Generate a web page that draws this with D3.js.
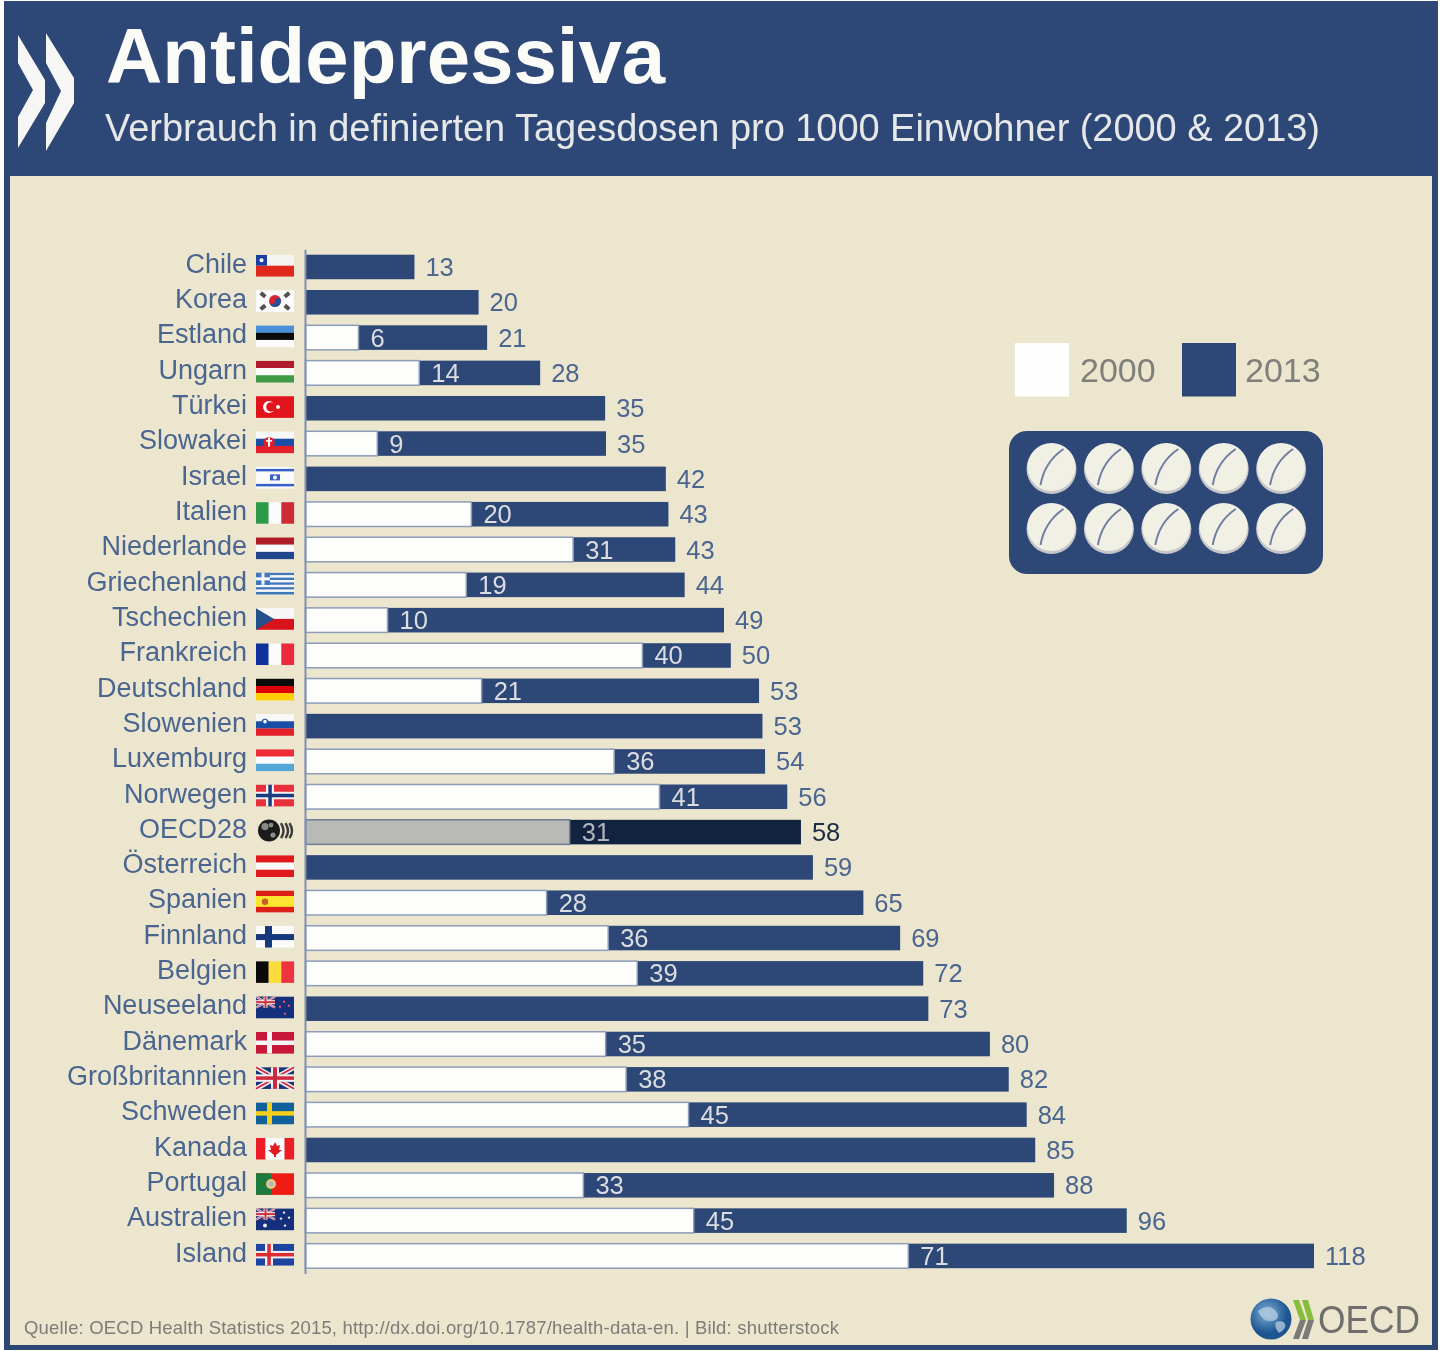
<!DOCTYPE html>
<html><head><meta charset="utf-8">
<script src="https://cdn.jsdelivr.net/npm/d3@7"></script>
<style>html,body{margin:0;padding:0;background:#fff}svg{display:block;filter:blur(.7px)}text{font-family:"Liberation Sans",Arial,sans-serif}</style>
</head><body><svg id="c" width="1440" height="1351"></svg>
<script>
const countries=["Chile","Korea","Estland","Ungarn","Türkei","Slowakei","Israel","Italien","Niederlande","Griechenland","Tschechien","Frankreich","Deutschland","Slowenien","Luxemburg","Norwegen","OECD28","Österreich","Spanien","Finnland","Belgien","Neuseeland","Dänemark","Großbritannien","Schweden","Kanada","Portugal","Australien","Island"];
const values2013=[12.8,20.3,21.3,27.5,35.1,35.2,42.2,42.5,43.3,44.4,49,49.8,53.1,53.5,53.8,56.4,58,59.4,65.3,69.6,72.3,72.9,80.1,82.3,84.4,85.4,87.6,96.1,118];
const labels2013=[13,20,21,28,35,35,42,43,43,44,49,50,53,53,54,56,58,59,65,69,72,73,80,82,84,85,88,96,118];
const values2000=[null,null,6.2,13.3,null,8.4,null,19.4,31.3,18.8,9.6,39.4,20.6,null,36.1,41.4,30.9,null,28.2,35.4,38.8,null,35.1,37.5,44.8,null,32.5,45.4,70.5];
const labels2000=[null,null,6,14,null,9,null,20,31,19,10,40,21,null,36,41,31,null,28,36,39,null,35,38,45,null,33,45,71];
const legendYears=["2000","2013"];
const title="Antidepressiva";
const subtitle="Verbrauch in definierten Tagesdosen pro 1000 Einwohner (2000 & 2013)";
const source="Quelle: OECD Health Statistics 2015, http://dx.doi.org/10.1787/health-data-en. | Bild: shutterstock";
const stripes={
 "Chile":["h","#f4f4f2","#e0281c"],"Korea":["h","#fbfbfb"],"Estland":["h","#4a90d8","#0a0a0a","#fbfbfb"],
 "Ungarn":["h","#b01c2e","#fbfbfb","#3f9a48"],"Türkei":["h","#e3131c"],"Slowakei":["h","#f8f8f8","#1a4fa8","#e3202a"],
 "Israel":["h","#fbfbfb"],"Italien":["v","#2c9a48","#fbfbfb","#cf2b37"],"Niederlande":["h","#ae1c28","#fbfbfb","#21468b"],
 "Griechenland":["h","#3f78bc","#f4f6f8","#3f78bc","#f4f6f8","#3f78bc","#f4f6f8","#3f78bc","#f4f6f8","#3f78bc"],
 "Tschechien":["h","#f8f8f8","#d7141a"],"Frankreich":["v","#10309c","#fbfbfb","#ec2a3c"],"Deutschland":["h","#0a0a0a","#dd0000","#ffce00"],
 "Slowenien":["h","#f8f8f8","#1a4fa8","#e3202a"],"Luxemburg":["h","#ef2b36","#fbfbfb","#50a8d8"],"Norwegen":["h","#e8303a"],
 "OECD28":[],"Österreich":["h","#e01a1c","#fbfbfb","#e01a1c"],"Spanien":["h","#dc1f18","#fbe62c","#fbe62c","#dc1f18"],"Finnland":["h","#fbfbfb"],
 "Belgien":["v","#0a0a0a","#fbdc3c","#ef3340"],"Neuseeland":["h","#14307c"],"Dänemark":["h","#c8183a"],"Großbritannien":["h","#1c3578"],
 "Schweden":["h","#10609c"],"Kanada":["v","#ee1c25","#fbfbfb","#fbfbfb","#ee1c25"],"Portugal":["h","#ee1c14"],"Australien":["h","#14307c"],"Island":["h","#1c44a0"]};

const NAVY="#2d4777",PANEL="#ece6ce",CAT="#4a6590";
const svg=d3.select("#c");
svg.append("rect").attr("x",4).attr("y",1).attr("width",1434).attr("height",1349).attr("fill",NAVY);
svg.append("rect").attr("x",10).attr("y",176).attr("width",1422).attr("height",1169).attr("fill",PANEL);

// header
const poly=(g,p,f)=>g.append("polygon").attr("points",p.map(d=>d.join(",")).join(" ")).attr("fill",f);
poly(svg,[[18,35],[45,80],[45,103],[18,148],[18,117],[33,90],[18,63]],"#f6f6f4");
poly(svg,[[46,33],[74,78],[74,103],[46,151],[46,123],[61,91],[46,63]],"#f6f6f4");
svg.append("text").attr("x",106).attr("y",83).attr("font-size",78).attr("font-weight",700).attr("fill","#fbfbf8").text(title);
svg.append("text").attr("x",105).attr("y",141).attr("font-size",38).attr("fill","#e6e8e8").attr("textLength",1215).attr("lengthAdjust","spacing").text(subtitle);

// scales
const x=d3.scaleLinear().domain([0,118]).range([305,1314]);
const y=d3.scaleBand().domain(countries).range([249.3,1273.6]).paddingInner(.305).paddingOuter(.1525);
const rows=svg.append("g").selectAll("g").data(countries).join("g").attr("transform",c=>`translate(0,${y(c)})`);
const h=y.bandwidth();
const isO=i=>countries[i]==="OECD28";
rows.append("rect").attr("x",x(0)).attr("width",(c,i)=>x(values2013[i])-x(0)).attr("height",h).attr("fill",(c,i)=>isO(i)?"#12233f":NAVY);
rows.filter((c,i)=>values2000[i]!=null).append("rect")
 .attr("x",x(0)+.5).attr("y",0).attr("height",h)
 .attr("width",c=>x(values2000[countries.indexOf(c)])-x(0))
 .attr("fill",c=>isO(countries.indexOf(c))?"#b9b9b7":"#fdfdfb")
 .attr("stroke",c=>isO(countries.indexOf(c))?"#6f7d90":"#8c9dba").attr("stroke-width",1.5);
rows.append("text").attr("x",(c,i)=>x(values2013[i])+11).attr("y",h/2+9).attr("font-size",25.5)
 .attr("fill",(c,i)=>isO(i)?"#1d2c44":CAT).text((c,i)=>labels2013[i]);
rows.filter((c,i)=>labels2000[i]!=null).append("text")
 .attr("x",c=>x(values2000[countries.indexOf(c)])+12.5).attr("y",h/2+9).attr("font-size",25.5)
 .attr("fill",c=>isO(countries.indexOf(c))?"#b0b4bc":"#dcdde0").text(c=>labels2000[countries.indexOf(c)]);

// axis with category labels
const axis=svg.append("g").attr("transform",`translate(${x(0)},0)`)
 .call(d3.axisLeft(y).tickSize(0).tickPadding(58).tickSizeOuter(0));
axis.select(".domain").attr("stroke","#7e90ae").attr("stroke-width",2);
axis.selectAll("text").attr("font-size",27).attr("fill",CAT).attr("dy","0.213em").style("font-family",'"Liberation Sans",Arial,sans-serif');

// flags
const FW=38,FH=21.5;
rows.each(function(c){
 const g=d3.select(this).append("g").attr("transform",`translate(256,${h/2-12})`);
 const s=stripes[c]; if(!s.length) return drawFlagExtra(g,c);
 const n=s.length-1;
 s.slice(1).forEach((col,i)=>{
  if(s[0]==="h") g.append("rect").attr("y",i*FH/n).attr("width",FW).attr("height",FH/n+.1).attr("fill",col);
  else g.append("rect").attr("x",i*FW/n).attr("width",FW/n+.1).attr("height",FH).attr("fill",col);
 });
 drawFlagExtra(g,c);
});
function R(g,a,b,w,hh,f){g.append("rect").attr("x",a).attr("y",b).attr("width",w).attr("height",hh).attr("fill",f);}
function C(g,a,b,r,f){g.append("circle").attr("cx",a).attr("cy",b).attr("r",r).attr("fill",f);}
function L(g,a,b,c2,d2,col,w){g.append("line").attr("x1",a).attr("y1",b).attr("x2",c2).attr("y2",d2).attr("stroke",col).attr("stroke-width",w);}
function jack(g){R(g,0,0,19,11,"#2a3f88");L(g,0,0,19,11,"#eee",2);L(g,19,0,0,11,"#eee",2);L(g,0,0,19,11,"#d03040",.8);L(g,19,0,0,11,"#d03040",.8);R(g,7.5,0,4,11,"#eee");R(g,0,3.5,19,4,"#eee");R(g,8.5,0,2,11,"#d0303c");R(g,0,4.5,19,2,"#d0303c");}
function drawFlagExtra(g,c){
 switch(c){
 case "Chile":R(g,0,0,11,10.7,"#1a3fa0");C(g,5.5,5.3,2,"#fff");break;
 case "Korea":C(g,19,10.7,6,"#d8262c");g.append("path").attr("d","M13 10.7a6 6 0 0 0 12 0a3 3 0 0 0-6 0a3 3 0 0 1-6 0z").attr("fill","#20509c");
  [[7,4.5,40],[31,4.5,-40],[7,17,-40],[31,17,40]].forEach(d=>g.append("rect").attr("x",-3).attr("y",-2).attr("width",6).attr("height",4).attr("fill","#55524e").attr("transform",`translate(${d[0]},${d[1]}) rotate(${d[2]})`));break;
 case "Türkei":C(g,13,10.7,6,"#fff");C(g,15,10.7,4.8,"#e3131c");C(g,22,10.7,2,"#fff");break;
 case "Slowakei":C(g,13,11,5.6,"#e3202a");R(g,12,6,2,9,"#fff");R(g,10,8.5,6,1.6,"#fff");break;
 case "Israel":R(g,0,2,38,2.5,"#3a5ec8");R(g,0,17,38,2.5,"#3a5ec8");R(g,14,7.5,10,6,"#3a5ec8");C(g,19,10.5,2,"#fff");break;
 case "Griechenland":R(g,0,0,14,12,"#3f78bc");R(g,5.5,0,3,12,"#f4f6f8");R(g,0,4.5,14,3,"#f4f6f8");break;
 case "Tschechien":poly(g,[[0,0],[18,10.75],[0,21.5]],"#24508c");break;
 case "Slowenien":C(g,9,8,3.5,"#1a4fa8");C(g,9,7.5,1.8,"#fff");break;
 case "Norwegen":R(g,10,0,8,21.5,"#f4f4f4");R(g,0,7,38,7.5,"#f4f4f4");R(g,12.3,0,3.5,21.5,"#1c3c80");R(g,0,9,38,3.5,"#1c3c80");break;
 case "OECD28":C(g,13,10.5,11,"#1c1c1c");C(g,9,6.5,3.6,"#8a8a86");C(g,15,5,2.4,"#8a8a86");C(g,17,15,2.6,"#8a8a86");
  [[25,1.6],[29.5,1.6],[33.5,1.6]].forEach(d=>g.append("path").attr("d",`M${d[0]} 3q5 8 0 15`).attr("fill","none").attr("stroke","#3a3a38").attr("stroke-width",d[1]+.8));break;
 case "Spanien":C(g,9,11,3.2,"#c8602c");break;
 case "Finnland":R(g,9,0,7,21.5,"#16387c");R(g,0,8,38,6,"#16387c");break;
 case "Neuseeland":jack(g);[[28,5],[33,9],[24,10],[29,17]].forEach(d=>C(g,d[0],d[1],1.2,"#d8505a"));break;
 case "Dänemark":R(g,11,0,5,21.5,"#f6f6f4");R(g,0,8.5,38,4.5,"#f6f6f4");break;
 case "Großbritannien":L(g,0,0,38,21.5,"#f0f0f0",5);L(g,38,0,0,21.5,"#f0f0f0",5);L(g,0,0,38,21.5,"#d0283c",1.8);L(g,38,0,0,21.5,"#d0283c",1.8);R(g,15,0,8,21.5,"#f0f0f0");R(g,0,7,38,7.5,"#f0f0f0");R(g,17,0,4,21.5,"#d0283c");R(g,0,9,38,3.5,"#d0283c");break;
 case "Schweden":R(g,11,0,5,21.5,"#f6d018");R(g,0,8.5,38,4.5,"#f6d018");break;
 case "Kanada":poly(g,[[19,4],[21,8],[24,7],[23,12],[26,12],[20,17],[20,19],[18,19],[18,17],[12,12],[15,12],[14,7],[17,8]],"#e01a22");break;
 case "Portugal":R(g,0,0,15,21.5,"#1e7a3c");C(g,15,10.7,5,"#e8c878");C(g,15,10.7,2.5,"#a8b8d0");break;
 case "Australien":jack(g);C(g,9,17,2,"#eee");[[28,4],[33,9],[25,10],[29,17]].forEach(d=>C(g,d[0],d[1],1.2,"#eee"));break;
 case "Island":R(g,9,0,8,21.5,"#f0f0f0");R(g,0,7,38,7.5,"#f0f0f0");R(g,11.3,0,3.5,21.5,"#dc2c34");R(g,0,9,38,3.5,"#dc2c34");break;
 }
}

// legend
const lg=svg.append("g");
lg.selectAll("rect").data(legendYears).join("rect").attr("x",(d,i)=>1015+i*167).attr("y",343).attr("width",54).attr("height",53.5).attr("fill",(d,i)=>i?NAVY:"#fefefe");
lg.selectAll("text").data(legendYears).join("text").attr("x",(d,i)=>1080+i*165).attr("y",382).attr("font-size",34).attr("fill","#7f7f7b").text(d=>d);

// blister pack
svg.append("rect").attr("x",1009).attr("y",431).attr("width",314).attr("height",143).attr("rx",18).attr("fill",NAVY);
const px=d3.range(5),py=d3.range(2);
py.forEach(r=>px.forEach(k=>{
 const g=svg.append("g").attr("transform",`translate(${1051.5+k*57.4},${468+r*60})`);
 C(g,0,1,25,"#c6c6ca");
 C(g,0,-1,24,"#f1f0e5");
 g.append("path").attr("d","M-11 17Q-7 -6 12 -19").attr("fill","none").attr("stroke","#6f7ea0").attr("stroke-width",2);
}));

// footer
svg.append("text").attr("x",24).attr("y",1334).attr("font-size",18.5).attr("fill","#7c7c78").attr("textLength",815).attr("lengthAdjust","spacing").text(source);
const defs=svg.append("defs");
const gr=defs.append("radialGradient").attr("id","gl").attr("cx",".4").attr("cy",".35");
gr.append("stop").attr("offset","0").attr("stop-color","#7fb0d8");
gr.append("stop").attr("offset","1").attr("stop-color","#1c5590");
C(svg,1271,1319,20.5,"url(#gl)");
svg.append("path").attr("d","M1258 1311q8-6 14-3t6 8t-8 5t-12-10zM1276 1322q7-2 9 2t-6 9q-5-5-3-11z").attr("fill","#b8cfe0").attr("opacity",.75);
poly(svg,[[1293,1300],[1299,1300],[1306,1320],[1300,1320]],"#86bd3c");
poly(svg,[[1300,1320],[1306,1320],[1299,1339],[1293,1339]],"#7a7a78");
poly(svg,[[1302,1300],[1308,1300],[1314,1320],[1308,1320]],"#86bd3c");
poly(svg,[[1308,1320],[1314,1320],[1308,1339],[1302,1339]],"#7a7a78");
svg.append("text").attr("x",1318).attr("y",1333).attr("font-size",38).attr("fill","#6e6e6c").attr("textLength",102).attr("lengthAdjust","spacingAndGlyphs").text("OECD");
</script></body></html>
